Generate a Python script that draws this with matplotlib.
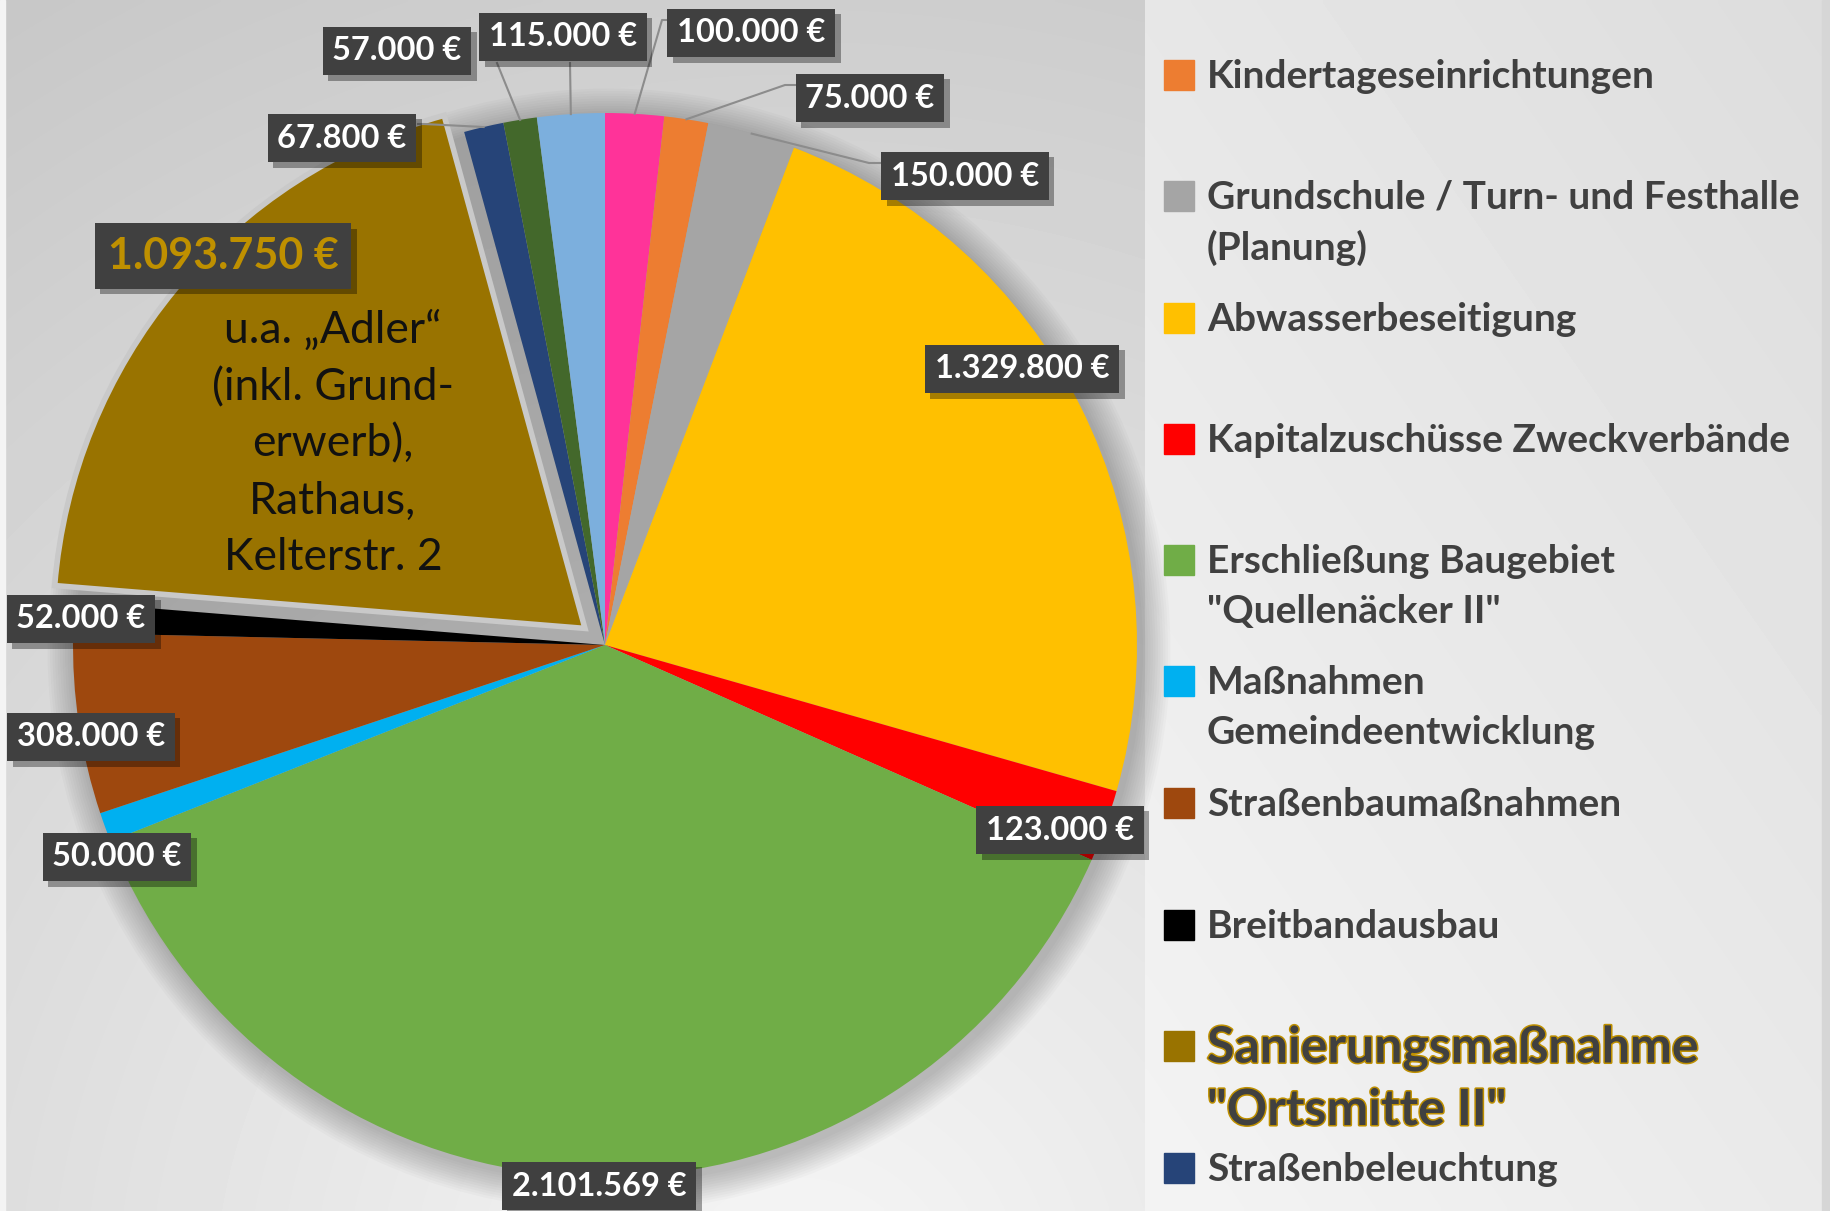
import numpy as np
import matplotlib.pyplot as plt
import matplotlib.patheffects as pe
from matplotlib.patches import Rectangle, Circle

plt.rcParams['font.family'] = ['Lato', 'DejaVu Sans']

W, H = 1831, 1211

# Werte im Uhrzeigersinn ab 12 Uhr
werte = [100000, 75000, 150000, 1329800, 123000, 2101569, 50000,
         308000, 52000, 1093750, 67800, 57000, 115000]
farben = ['#ff3399', '#ed7d31', '#a5a5a5', '#ffc000', '#ff0000', '#70ad47',
          '#00b0f0', '#9e480e', '#000000', '#997300', '#264478', '#43682b',
          '#7cafdd']

legende = ['Kindertageseinrichtungen',
           'Grundschule / Turn- und Festhalle\n(Planung)',
           'Abwasserbeseitigung',
           'Kapitalzuschüsse Zweckverbände',
           'Erschließung Baugebiet\n"Quellenäcker II"',
           'Maßnahmen\nGemeindeentwicklung',
           'Straßenbaumaßnahmen',
           'Breitbandausbau',
           'Sanierungsmaßnahme\n"Ortsmitte II"',
           'Straßenbeleuchtung']
legende_farben = ['#ed7d31', '#a5a5a5', '#ffc000', '#ff0000', '#70ad47',
                  '#00b0f0', '#9e480e', '#000000', '#997300', '#264478']

adler_text = 'u.a. \u201eAdler\u201c\n(inkl. Grund-\nerwerb),\nRathaus,\nKelterstr. 2'

# Position der Wertebeschriftungen (Pixel von oben links)
label_pos = [(751, 33), (870, 98), (965, 176), (1022, 369), (1060, 830),
             (599, 1186), (117, 857), (91, 737), (81, 619), (223, 256),
             (342, 138), (397, 51), (563, 37)]
legende_y = [75, 196, 318, 439, 560, 681, 803, 925, 1046, 1168]


def fmt(v):
    return f"{v:,}".replace(",", ".") + " \u20ac"


fig = plt.figure(figsize=(W / 100, H / 100), dpi=100)
ax = fig.add_axes([0, 0, 1, 1])

# Hintergrund
xx, yy = np.meshgrid(np.linspace(0, 1145, 300), np.linspace(0, H, 300))
d = np.hypot(xx - 800, yy + 100)
bg = 0.965 - 0.18 * np.clip(d / 1500, 0, 1)
ax.imshow(bg, extent=(0, 1145, H, 0), cmap='gray', vmin=0, vmax=1,
          aspect='auto', zorder=0, interpolation='bilinear')
xx, yy = np.meshgrid(np.linspace(1145, 1822, 200), np.linspace(0, H, 200))
bg2 = 0.955 - 0.05 * (yy / H) - 0.04 * ((xx - 1145) / 677)
ax.imshow(bg2, extent=(1145, 1822, H, 0), cmap='gray', vmin=0, vmax=1,
          aspect='auto', zorder=0, interpolation='bilinear')
ax.add_patch(Rectangle((1822, 0), 9, H, color='#d6d6d6', zorder=0))
ax.add_patch(Rectangle((0, 0), 5, H, color='#f4f4f4', zorder=0))

cx, cy, R = 605, H - 645, 532

# weicher Schatten
for i in range(12):
    ax.add_patch(Circle((cx + 4, cy - 5), R + 2 + i * 2.5, color='black',
                        alpha=0.018, lw=0, zorder=1))

explode = [0] * len(werte)
explode[9] = 26
wedges, _ = ax.pie(werte, colors=farben, startangle=90, counterclock=False,
                   center=(cx, cy), radius=R, explode=explode,
                   wedgeprops=dict(linewidth=0, zorder=2))
wedges[9].set_edgecolor('#c9c9c9')
wedges[9].set_linewidth(4)
wedges[9].set_zorder(3)

ax.set_xlim(0, W)
ax.set_ylim(0, H)
ax.set_aspect('auto')
ax.axis('off')

# Führungslinien für kleine Segmente
def rand(w, frac=0.5):
    t = np.deg2rad(w.theta1 + frac * (w.theta2 - w.theta1))
    return w.center[0] + w.r * np.cos(t), w.center[1] + w.r * np.sin(t)

linien = {0: [(662, 20), (672, 20)], 1: [(785, 85), (797, 85)],
          2: [(869, 163), (880, 163)], 10: [(424, 124), (418, 124)],
          11: [(497, 63)], 12: [(570, 63)]}
for i, pts in linien.items():
    x0, y0 = rand(wedges[i])
    xs = [x0] + [p[0] for p in pts]
    ys = [y0] + [H - p[1] for p in pts]
    ax.plot(xs, ys, color='#8c8c8c', lw=1.5, zorder=4)

# Wertebeschriftungen
for i, (v, (px, py)) in enumerate(zip(werte, label_pos)):
    gross = i == 9
    t = ax.text(px, H - py, fmt(v), ha='center', va='center',
                fontsize=31 if gross else 23.5, fontweight='bold',
                color='#bf9000' if gross else 'white', zorder=6,
                bbox=dict(boxstyle='square,pad=0.3', fc='#404040', ec='none'))
    t.get_bbox_patch().set_path_effects(
        [pe.SimplePatchShadow(offset=(4, -4), shadow_rgbFace='black', alpha=0.35),
         pe.Normal()])

ax.text(333, H - 444, adler_text, ha='center', va='center', fontsize=32,
        color='#111111', linespacing=1.47, zorder=6)

# Legende
for i, (txt, c, py) in enumerate(zip(legende, legende_farben, legende_y)):
    ax.add_patch(Rectangle((1164, H - py - 15), 30, 30, color=c, zorder=5))
    if i == 8:
        ax.text(1207, H - py + 20.5, txt, ha='left', va='top', fontsize=36,
                fontweight='bold', color='#404040', linespacing=1.46, zorder=6,
                path_effects=[pe.Stroke(linewidth=2.2, foreground='#bf9000'),
                              pe.Normal()])
    else:
        ax.text(1207, H - py + 16, txt, ha='left', va='top', fontsize=28,
                fontweight='bold', color='#404040', linespacing=1.5, zorder=6)

fig.savefig('out.png', dpi=100)
